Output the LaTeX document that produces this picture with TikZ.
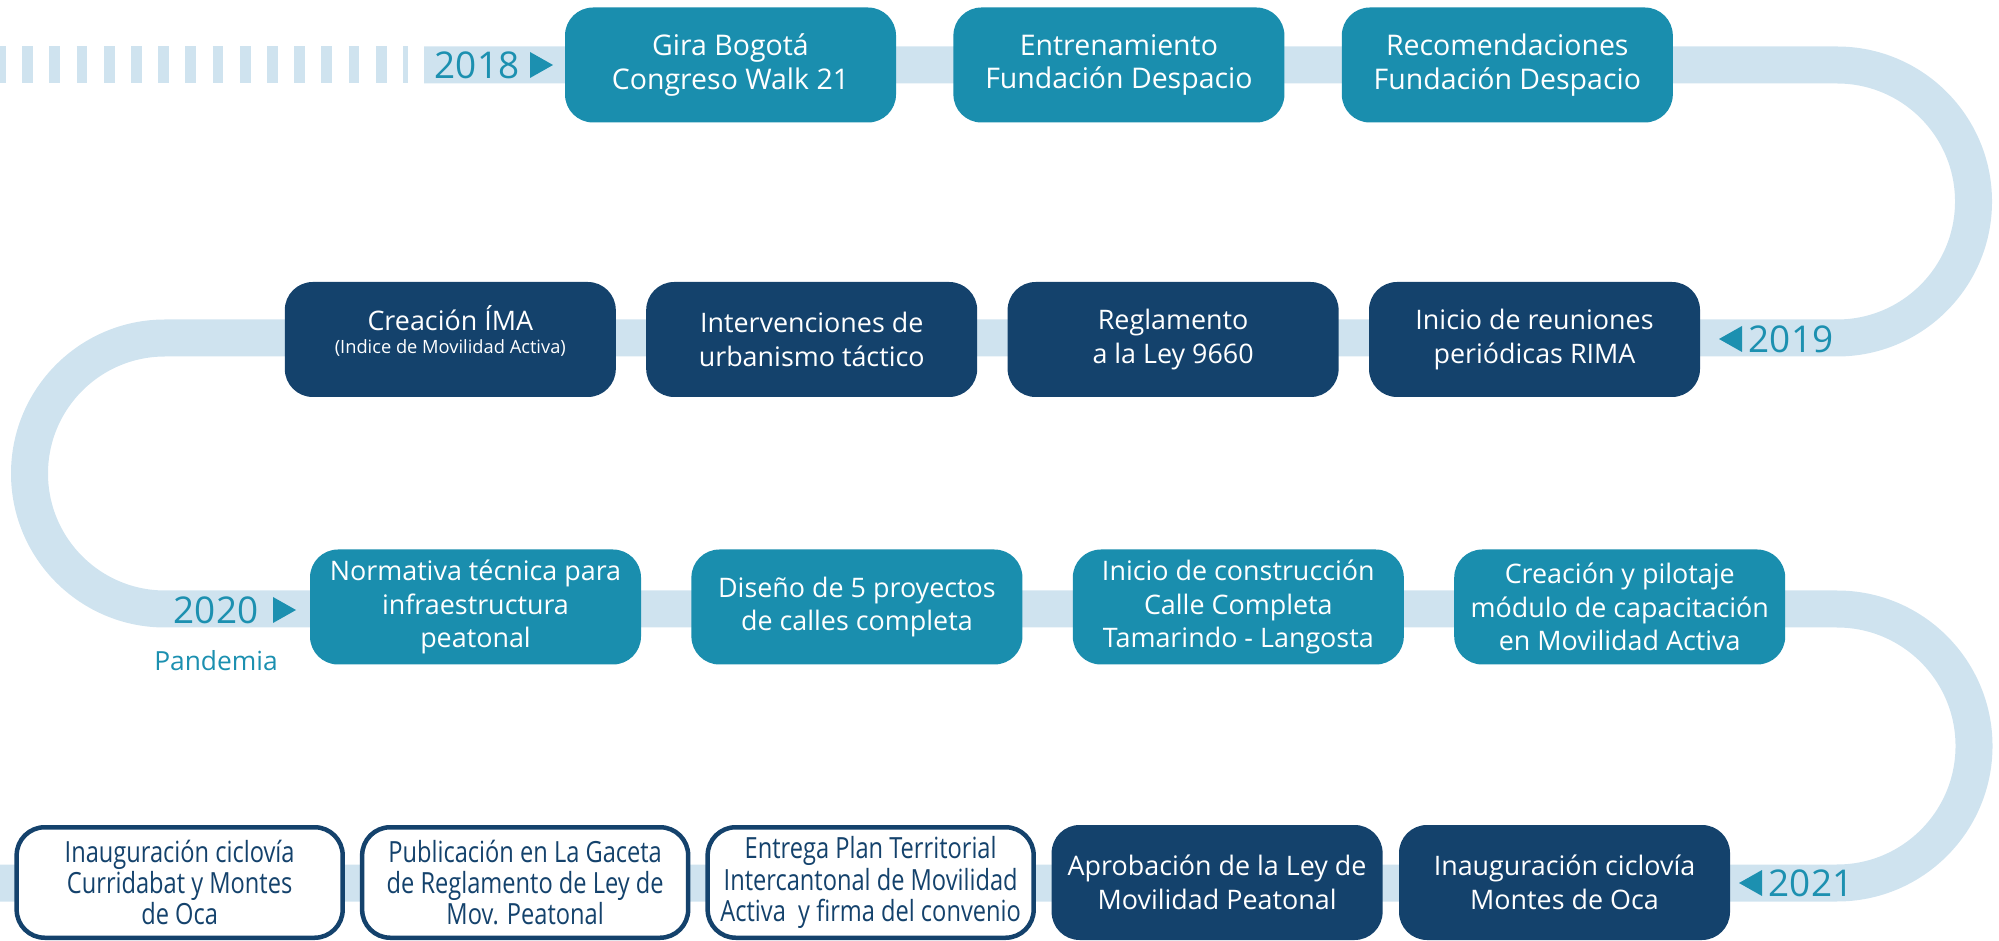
\documentclass[tikz,border=0pt]{standalone}
\usepackage{fontspec}
\setmainfont{Open Sans}
\newfontfamily\condfont[FakeStretch=0.81]{Open Sans}
\usetikzlibrary{positioning}
\definecolor{stageteal}{RGB}{26,142,174}
\definecolor{stagenavy}{RGB}{20,66,108}
\definecolor{trackblue}{RGB}{207,227,239}
\definecolor{yearteal}{RGB}{28,144,176}

\begin{document}
\begin{tikzpicture}[
  x=0.1mm, y=0.1mm,
  card/.style={rectangle, rounded corners=2.8mm, minimum width=33.1mm, minimum height=11.5mm,
               align=center, inner sep=1pt, text=white, font=\fontsize{7.65}{9.6}\selectfont},
  tealbox/.style={card, fill=stageteal},
  navybox/.style={card, fill=stagenavy},
  openbox/.style={card, draw=stagenavy, line width=0.45mm, fill=white, text=stagenavy,
                  minimum width=32.6mm, minimum height=11.05mm,
                  font=\condfont\fontsize{8.3}{8.9}\selectfont},
  firstrow/.style={font=\fontsize{8.1}{9.6}\selectfont},
  yearlbl/.style={text=yearteal, inner sep=0pt, font=\fontsize{10.5}{12}\selectfont},
  track/.style={trackblue, line width=3.7mm}
]
  \useasboundingbox (0,0) rectangle (1999,-941);

  % the winding road
  \draw[track, dash pattern=on 1.07mm off 1.65mm, dash phase=0.5mm] (0,-65) -- (408,-65);
  \draw[track] (424,-65) -- (1837,-65) arc[start angle=90, end angle=-90, radius=13.65mm]
    -- (165,-338) arc[start angle=90, end angle=270, radius=13.55mm]
    -- (1837,-609) arc[start angle=90, end angle=-90, radius=13.7mm]
    -- (0,-883);

  % years
  \node[yearlbl] (y2018) at (477,-65) {2018};
  \fill[yearteal] (530,-52) -- (553,-65) -- (530,-78) -- cycle;
  \node[yearlbl] (y2019) at (1791,-339) {2019};
  \fill[yearteal] (1742,-326) -- (1719,-339) -- (1742,-352) -- cycle;
  \node[yearlbl] (y2020) at (216,-610) {2020};
  \fill[yearteal] (273,-597) -- (296,-610) -- (273,-623) -- cycle;
  \node[text=yearteal, font=\fontsize{7.5}{9}\selectfont, below=1.4mm of y2020] (pandemia) {Pandemia};
  \node[yearlbl] (y2021) at (1811,-883) {2021};
  \fill[yearteal] (1762,-870) -- (1739,-883) -- (1762,-896) -- cycle;

  % 2018
  \node[tealbox, firstrow] (gira) at (730.5,-65) {Gira Bogotá\\Congreso Walk 21};
  \node[tealbox, firstrow, right=5.6mm of gira] (entrena) {Entrenamiento\\Fundación Despacio};
  \node[tealbox, firstrow, right=5.6mm of entrena] (recom) {Recomendaciones\\Fundación Despacio};

  % 2019
  \node[navybox] (rima) at (1534.5,-339.5) {Inicio de reuniones\\periódicas RIMA};
  \node[navybox, left=2.9mm of rima] (regla) {Reglamento\\a la Ley 9660};
  \node[navybox, left=2.9mm of regla] (urban) {Intervenciones de\\urbanismo táctico};
  \node[navybox, text depth=5.5pt, left=2.9mm of urban] (ima) {Creación ÍMA\\[-3pt]{\fontsize{5.2}{6.2}\selectfont(Indice de Movilidad Activa)}};

  % 2020
  \node[tealbox] (norma) at (475.5,-607) {Normativa técnica para\\infraestructura\\peatonal};
  \node[tealbox, right=4.9mm of norma] (diseno) {Diseño de 5 proyectos\\de calles completa};
  \node[tealbox, right=4.9mm of diseno] (tamarindo) {Inicio de construcción\\Calle Completa\\Tamarindo - Langosta};
  \node[tealbox, right=4.9mm of tamarindo] (modulo) {Creación y pilotaje\\módulo de capacitación\\en Movilidad Activa};

  % 2021
  \node[navybox] (montes) at (1564.5,-882.5) {Inauguración ciclovía\\Montes de Oca};
  \node[navybox, left=1.5mm of montes] (ley) {Aprobación de la Ley de\\Movilidad Peatonal};
  \node[openbox, left=1.5mm of ley] (plan) {Entrega Plan Territorial\\Intercantonal de Movilidad\\Activa\ \ y firma del convenio};
  \node[openbox, left=1.5mm of plan] (gaceta) {Publicación en La Gaceta\\de Reglamento de Ley de\\Mov. Peatonal};
  \node[openbox, left=1.5mm of gaceta] (curri) {Inauguración ciclovía\\Curridabat y Montes\\de Oca};
\end{tikzpicture}
\end{document}
